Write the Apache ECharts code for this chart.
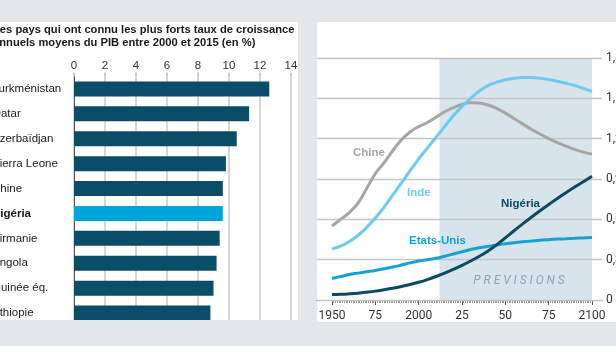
<!DOCTYPE html>
<html>
<head>
<meta charset="utf-8">
<script src="https://cdn.jsdelivr.net/npm/echarts@6/dist/echarts.min.js"></script>
<style>
  html, body { margin: 0; padding: 0; background: #e5e6e7; }
  #chart { width: 616px; height: 346px; }
</style>
</head>
<body>
<div id="chart"></div>
<script>
// Left panel: average annual GDP growth 2000-2015 (%)
const countries = ['Turkménistan', 'Qatar', 'Azerbaïdjan', 'Sierra Leone', 'Chine',
                   'Nigéria', 'Birmanie', 'Angola', 'Guinée éq.', 'Ethiopie'];
const growth = [12.6, 11.3, 10.5, 9.8, 9.6, 9.6, 9.4, 9.2, 9.0, 8.8];
const highlighted = 'Nigéria';
const growthTicks = ['0', '2', '4', '6', '8', '10', '12', '14'];

// Right panel: population (billions), 1950-2100
const years = [1950, 1955, 1960, 1965, 1970, 1975, 1980, 1985, 1990, 1995, 2000,
               2005, 2010, 2015, 2020, 2025, 2030, 2035, 2040, 2045, 2050,
               2055, 2060, 2065, 2070, 2075, 2080, 2085, 2090, 2095, 2100];
const popChina = [0.55, 0.60, 0.65, 0.72, 0.83, 0.94, 1.02, 1.11, 1.19, 1.25, 1.29,
                  1.32, 1.36, 1.40, 1.43, 1.455, 1.468, 1.465, 1.45, 1.425, 1.39,
                  1.35, 1.31, 1.27, 1.235, 1.20, 1.17, 1.145, 1.12, 1.10, 1.085];
const popIndia = [0.38, 0.40, 0.435, 0.48, 0.54, 0.61, 0.69, 0.78, 0.87, 0.96, 1.05,
                  1.13, 1.21, 1.29, 1.37, 1.44, 1.50, 1.555, 1.595, 1.62, 1.638,
                  1.65, 1.655, 1.655, 1.65, 1.64, 1.627, 1.612, 1.595, 1.574, 1.552];
const popNigeria = [0.04, 0.042, 0.046, 0.051, 0.058, 0.066, 0.076, 0.087, 0.10, 0.115, 0.132,
                    0.152, 0.175, 0.20, 0.228, 0.258, 0.29, 0.325, 0.365, 0.41, 0.462,
                    0.515, 0.566, 0.616, 0.664, 0.71, 0.755, 0.798, 0.84, 0.88, 0.92];
const popUSA = [0.16, 0.175, 0.19, 0.20, 0.21, 0.22, 0.232, 0.245, 0.26, 0.276, 0.29,
                0.30, 0.31, 0.325, 0.342, 0.359, 0.375, 0.388, 0.399, 0.409, 0.418,
                0.426, 0.433, 0.439, 0.445, 0.449, 0.453, 0.456, 0.459, 0.462, 0.464];
const yearLabels = ['1950', '75', '2000', '25', '50', '75', '2100'];
const popLabels = ['0', '0,3', '0,6', '0,9', '1,2', '1,5', '1,8'];
const forecastFrom = 2012;

const BG = '#e5e6e7';
const SANS = '"Liberation Sans", Arial, sans-serif';
const pairs = vals => years.map((y, i) => [y, vals[i]]);

const chart = echarts.init(document.getElementById('chart'), null, { renderer: 'canvas' });

const lineSeries = (name, vals, color) => ({
  name, type: 'line', xAxisIndex: 2, yAxisIndex: 2,
  data: pairs(vals), smooth: 0.4,
  showSymbol: false, symbol: 'none', z: 5, silent: true,
  lineStyle: { color, width: 3 }
});

chart.setOption({
  backgroundColor: BG,
  animation: false,
  textStyle: { fontFamily: SANS },
  grid: [
    { left: 74, right: 325, top: 76.5, bottom: 20.5, outerBoundsMode: 'none', containLabel: false },
    { left: 317, right: 14, top: 58, bottom: 46, outerBoundsMode: 'none', containLabel: false },
    { left: 332, right: 24, top: 58, bottom: 46, outerBoundsMode: 'none', containLabel: false }
  ],
  xAxis: [
    {
      gridIndex: 0, type: 'value', position: 'top', min: 0, max: 14, interval: 2,
      axisLine: { show: false },
      axisTick: { show: true, length: 4, lineStyle: { color: '#bbb', width: 1.5 } },
      axisLabel: { color: '#333', fontSize: 11.5, margin: 5,
                   formatter: (v) => growthTicks[Math.round(v / 2)] },
      splitLine: { show: true, lineStyle: { color: '#c8c8c8', width: 1.5 } }
    },
    {
      gridIndex: 1, type: 'value', min: 0, max: 1,
      axisLine: { show: true, lineStyle: { color: '#555', width: 1.2 } },
      axisTick: { show: false }, axisLabel: { show: false }, splitLine: { show: false }
    },
    {
      gridIndex: 2, type: 'value', min: 1950, max: 2100, interval: 25,
      axisLine: { show: false },
      axisTick: { show: true, length: 5, lineStyle: { color: '#555', width: 1 } },
      minorTick: { show: true, splitNumber: 25, length: 3, lineStyle: { color: '#777', width: 0.8 } },
      axisLabel: { color: '#333', fontSize: 12, margin: 10, fontFamily: 'Roboto, sans-serif',
                   formatter: (v) => yearLabels[Math.round((v - 1950) / 25)] },
      splitLine: { show: false }, minorSplitLine: { show: false }
    }
  ],
  yAxis: [
    {
      gridIndex: 0, type: 'category', data: countries, inverse: true,
      axisLine: { show: true, lineStyle: { color: '#555', width: 1 } },
      axisTick: { show: false },
      axisLabel: {
        align: 'left', margin: 82, color: '#1a1a1a', fontSize: 11.5,
        formatter: (v) => v === highlighted ? '{b|' + v + '}' : v,
        rich: { b: { fontWeight: 'bold', fontSize: 11.5, color: '#1a1a1a' } }
      }
    },
    {
      gridIndex: 1, type: 'value', position: 'right', min: 0, max: 1.8, interval: 0.3, z: 2,
      axisLine: { show: false }, axisTick: { show: false },
      axisLabel: { color: '#333', fontSize: 12, margin: 4, align: 'left', fontFamily: 'Roboto, sans-serif',
                   formatter: (v) => popLabels[Math.round(v / 0.3)] },
      splitLine: { show: true, lineStyle: { color: '#c4c4c4', width: 1.4 } }
    },
    { gridIndex: 2, type: 'value', min: 0, max: 1.8, show: false }
  ],
  series: [
    {
      type: 'bar', xAxisIndex: 0, yAxisIndex: 0, barWidth: 15, silent: true,
      data: growth.map((v, i) => ({
        value: v,
        itemStyle: { color: countries[i] === highlighted ? '#00a4dd' : '#0a4d69' }
      }))
    },
    {
      type: 'line', xAxisIndex: 2, yAxisIndex: 2, data: [], silent: true,
      markArea: {
        silent: true,
        itemStyle: { color: '#d8e4ec' },
        data: [[{ xAxis: forecastFrom }, { xAxis: 2100 }]]
      }
    },
    lineSeries('Chine', popChina, '#a6a6a6'),
    lineSeries('Inde', popIndia, '#6dcbf0'),
    lineSeries('Etats-Unis', popUSA, '#16a0d8'),
    lineSeries('Nigéria', popNigeria, '#0b4a63')
  ],
  graphic: [
    { type: 'rect', z: -10, shape: { x: 0, y: 22, width: 298, height: 298 }, style: { fill: '#fff' } },
    { type: 'rect', z: -10, shape: { x: 317, y: 22, width: 299, height: 300 }, style: { fill: '#fff' } },
    { type: 'rect', z: 50, shape: { x: 0, y: 320, width: 317, height: 26 }, style: { fill: BG } },
    { type: 'text', z: 60, x: -7, y: 30, style: {
        text: 'Les pays qui ont connu les plus forts taux de croissance',
        font: 'bold 11.2px ' + SANS, fill: '#1a1a1a', verticalAlign: 'middle' } },
    { type: 'text', z: 60, x: -7, y: 43, style: {
        text: 'annuels moyens du PIB entre 2000 et 2015 (en %)',
        font: 'bold 11.2px ' + SANS, fill: '#1a1a1a', verticalAlign: 'middle' } },
    { type: 'text', z: 60, x: 353, y: 153, style: { text: 'Chine',
        font: 'bold 11.5px ' + SANS, fill: '#a6a6a6', verticalAlign: 'middle' } },
    { type: 'text', z: 60, x: 407, y: 193, style: { text: 'Inde',
        font: 'bold 11.5px ' + SANS, fill: '#6dcbf0', verticalAlign: 'middle' } },
    { type: 'text', z: 60, x: 501, y: 204, style: { text: 'Nigéria',
        font: 'bold 11.5px ' + SANS, fill: '#0b4a63', verticalAlign: 'middle' } },
    { type: 'text', z: 60, x: 409, y: 241, style: { text: 'Etats-Unis',
        font: 'bold 11.5px ' + SANS, fill: '#16a0d8', verticalAlign: 'middle' } },
    { type: 'text', z: 60, x: 519, y: 281, style: { text: 'P R E V I S I O N S',
        font: 'italic 12px Roboto, sans-serif', fill: '#88a2b6', align: 'center', verticalAlign: 'middle' } }
  ]
});
</script>
</body>
</html>
